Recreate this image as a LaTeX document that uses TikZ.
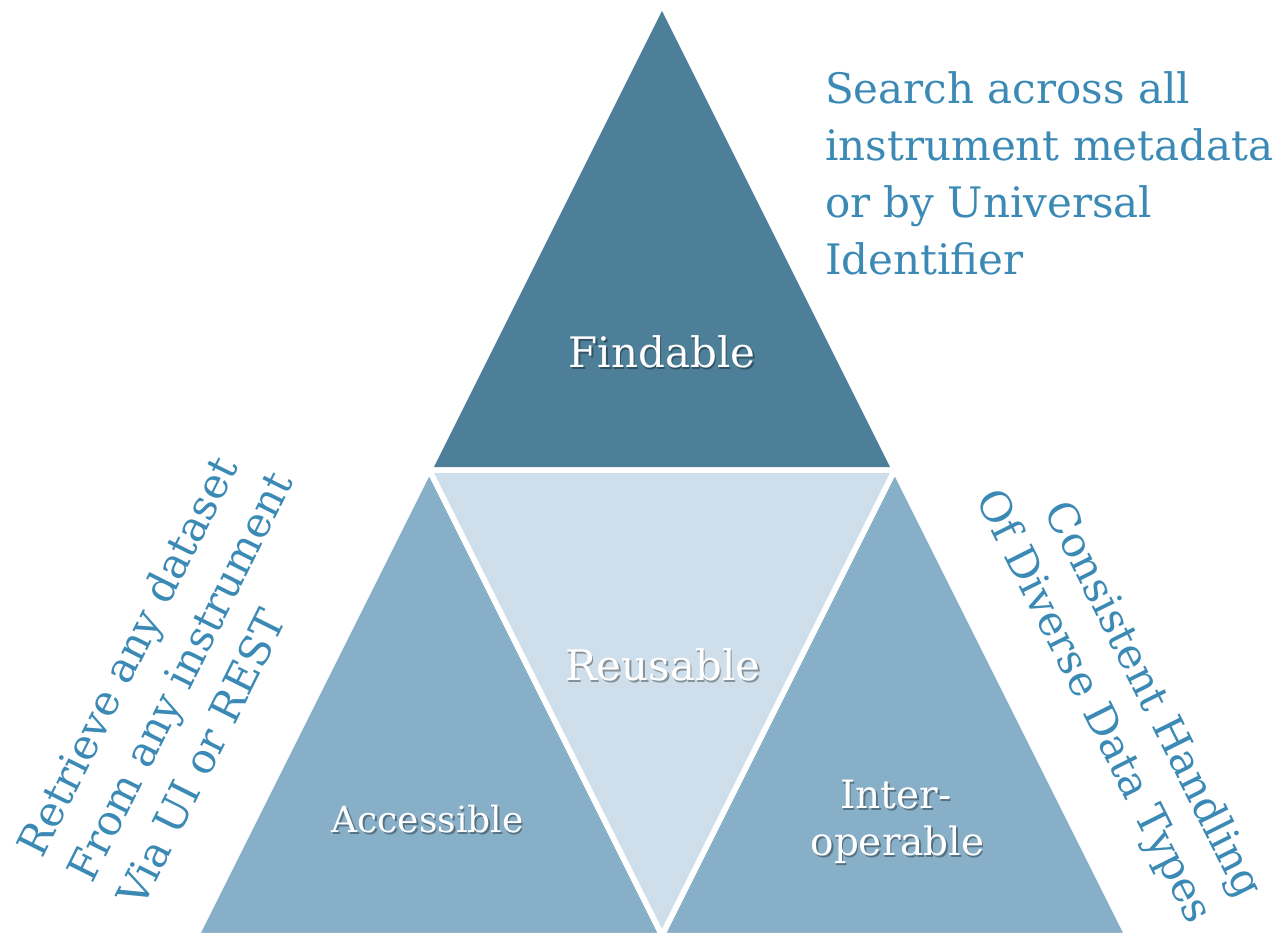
\documentclass[tikz,border=0pt]{standalone}
\usepackage{fontspec}
\setmainfont{DejaVu Serif}
\definecolor{topfill}{HTML}{4D7F99}
\definecolor{sidefill}{HTML}{87AFC7}
\definecolor{midfill}{HTML}{CEDFEB}
\definecolor{noteblue}{HTML}{3B89B5}
\tikzset{
  tri/.style={draw=white, line width=5.5pt},
  note/.style={text=noteblue, inner sep=0pt},
  lbl/.style={text=white, inner sep=0pt},
  lblshadow/.style={text=black, opacity=0.35, inner sep=0pt},
}
\begin{document}
\begin{tikzpicture}[x=1pt,y=-1pt]
\useasboundingbox (0,0) rectangle (1276,932);
\clip (0,0) rectangle (1276,932);
% geometry
\coordinate (A) at (662,4.5);
\coordinate (L) at (429.25,470);
\coordinate (R) at (894.75,470);
\coordinate (BL) at (196.5,935.5);
\coordinate (BM) at (662,935.5);
\coordinate (BR) at (1127.5,935.5);
% triangles
\fill[topfill] (A) -- (L) -- (R) -- cycle;
\fill[sidefill] (L) -- (BL) -- (BM) -- cycle;
\fill[sidefill] (R) -- (BM) -- (BR) -- cycle;
\fill[midfill] (L) -- (R) -- (BM) -- cycle;
\draw[tri] (A) -- (L) -- (R) -- cycle;
\draw[tri] (L) -- (BL) -- (BM) -- cycle;
\draw[tri] (R) -- (BM) -- (BR) -- cycle;
\draw[tri] (L) -- (R) -- (BM) -- cycle;
% labels
\node[lblshadow, anchor=base, font=\fontsize{42}{50}\selectfont] (fS) at (663.5,369) {Findable};
\node[lbl, anchor=base, font=\fontsize{42}{50}\selectfont] (f) at (662,367) {Findable};
\node[lblshadow, anchor=base, font=\fontsize{42}{50}\selectfont] (rS) at (664.5,682) {Reusable};
\node[lbl, anchor=base, font=\fontsize{42}{50}\selectfont] (r) at (663,680) {Reusable};
\node[lblshadow, anchor=base, font=\fontsize{36}{44}\selectfont] (aS) at (429,834) {Accessible};
\node[lbl, anchor=base, font=\fontsize{36}{44}\selectfont] (a) at (427.5,832) {Accessible};
\node[lblshadow, anchor=base, font=\fontsize{39}{47}\selectfont] (i1S) at (897.5,810) {Inter-};
\node[lbl, anchor=base, font=\fontsize{39}{47}\selectfont] (i1) at (896,808) {Inter-};
\node[lblshadow, anchor=base, font=\fontsize{39}{47}\selectfont] (i2S) at (899,857) {operable};
\node[lbl, anchor=base, font=\fontsize{39}{47}\selectfont] (i2) at (897.5,855) {operable};
% top-right note
\node[note, anchor=north west, align=left, font=\fontsize{42}{57}\selectfont] (search) at (825,71)
  {Search across all\\instrument metadata\\or by Universal\\Identifier};
% left rotated note
\node[note, anchor=north west, align=left, rotate=63.43, font=\fontsize{42}{56}\selectfont] (retrieve) at (13.4,845.7)
  {Retrieve any dataset\\From any instrument\\Via UI or REST};
% right rotated note
\node[note, anchor=north west, align=right, rotate=-63.43, font=\fontsize{42}{56}\selectfont] (consistent) at (1054,459)
  {Consistent Handling\\Of Diverse Data Types};
\end{tikzpicture}
\end{document}
